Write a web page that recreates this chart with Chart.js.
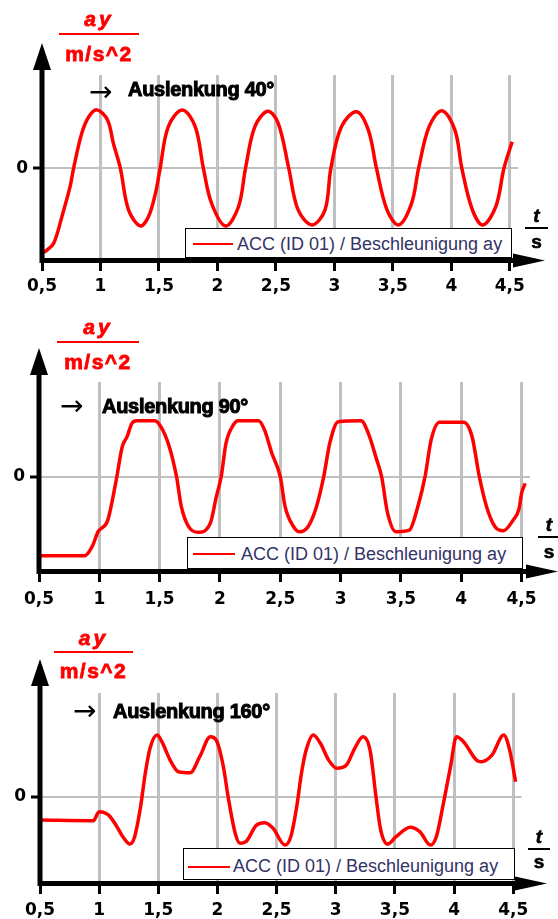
<!DOCTYPE html>
<html>
<head>
<meta charset="utf-8">
<script src="https://cdn.jsdelivr.net/npm/chart.js@4.4.0/dist/chart.umd.min.js"></script>
<style>
body { margin: 0; background: #fff; width: 558px; height: 919px; overflow: hidden; position: relative; font-family: "Liberation Sans", Arial, sans-serif; }
canvas { position: absolute; left: 0; }
.q, .u { position: absolute; color: #ff0000; font-weight: bold; text-align: center; font-size: 21px; line-height: 21px; -webkit-text-stroke: 0.8px #ff0000; }
.q { font-style: italic; letter-spacing: 3px; }
.u { letter-spacing: 1.5px; }
.bar { position: absolute; height: 2px; background: #ff0000; }
.arr { position: absolute; font-family: "DejaVu Sans", sans-serif; font-size: 28px; line-height: 28px; color: #000; }
.lbl { position: absolute; font-size: 20px; line-height: 20px; font-weight: bold; letter-spacing: -0.3px; -webkit-text-stroke: 1px #000; white-space: nowrap; }
.leg { position: absolute; box-sizing: border-box; border: 1px solid #000; background: #fff; }
.leg i { position: absolute; height: 2px; background: #ff0000; }
.leg span { position: absolute; font-size: 18px; line-height: 18px; color: #333366; white-space: nowrap; }
.tq, .ts { position: absolute; text-align: center; font-weight: bold; font-size: 19px; line-height: 19px; -webkit-text-stroke: 0.6px #000; }
.tq { font-style: italic; }
.tbar { position: absolute; height: 2px; background: #000; }
</style>
</head>
<body>
<canvas id="c1" width="558" height="300" style="top:0"></canvas>
<canvas id="c2" width="558" height="312" style="top:300px"></canvas>
<canvas id="c3" width="558" height="320" style="top:600px"></canvas>

<!-- panel 1 -->
<div class="q" style="left:59px;width:80px;top:8px">ay</div>
<div class="bar" style="left:59px;width:80px;top:33px"></div>
<div class="u" style="left:59px;width:80px;top:43px">m/s^2</div>
<div class="arr" style="left:89px;top:78px">→</div>
<div class="lbl" style="left:128px;top:79px">Auslenkung 40°</div>
<div class="leg" style="left:185px;top:228px;width:327px;height:30px"><i style="left:7px;width:40px;top:14px"></i><span style="left:51px;top:6px">ACC (ID 01) / Beschleunigung ay</span></div>
<div class="tq" style="left:525px;width:23px;top:206px">t</div>
<div class="tbar" style="left:525px;width:23px;top:227px"></div>
<div class="ts" style="left:525px;width:23px;top:232px">s</div>

<!-- panel 2 -->
<div class="q" style="left:57px;width:82px;top:316px">ay</div>
<div class="bar" style="left:57px;width:82px;top:341px"></div>
<div class="u" style="left:57px;width:82px;top:351px">m/s^2</div>
<div class="arr" style="left:60px;top:392px">→</div>
<div class="lbl" style="left:102px;top:396px">Auslenkung 90°</div>
<div class="leg" style="left:187px;top:537px;width:336px;height:32px"><i style="left:5px;width:42px;top:15px"></i><span style="left:53px;top:7px">ACC (ID 01) / Beschleunigung ay</span></div>
<div class="tq" style="left:538px;width:22px;top:515px">t</div>
<div class="tbar" style="left:538px;width:22px;top:536px"></div>
<div class="ts" style="left:538px;width:22px;top:542px">s</div>

<!-- panel 3 -->
<div class="q" style="left:54px;width:79px;top:627px">ay</div>
<div class="bar" style="left:54px;width:79px;top:651px"></div>
<div class="u" style="left:54px;width:79px;top:660px">m/s^2</div>
<div class="arr" style="left:73px;top:697px">→</div>
<div class="lbl" style="left:113px;top:701px">Auslenkung 160°</div>
<div class="leg" style="left:183px;top:848px;width:332px;height:32px"><i style="left:4px;width:42px;top:17px"></i><span style="left:49px;top:8px">ACC (ID 01) / Beschleunigung ay</span></div>
<div class="tq" style="left:528px;width:22px;top:827px">t</div>
<div class="tbar" style="left:528px;width:22px;top:848px"></div>
<div class="ts" style="left:528px;width:22px;top:852px">s</div>

<script>
// x ticks (seconds)
const xTicks = [0.5, 1, 1.5, 2, 2.5, 3, 3.5, 4, 4.5];

// Auslenkung 40°
const t40 = [0.50,0.54,0.60,0.67,0.74,0.77,0.84,0.90,0.97,1.06,1.11,1.17,1.24,1.34,1.41,1.47,1.51,1.58,1.70,1.81,
    1.88,1.95,2.07,2.18,2.24,2.32,2.43,2.52,2.61,2.69,2.81,2.92,2.97,3.06,3.19,3.29,3.36,3.45,3.55,3.66,
    3.72,3.81,3.92,4.03,4.09,4.18,4.27,4.38,4.45,4.52];
const ay40 = [-4.25,-4.1,-3.75,-2.42,-0.92,0,1.75,2.58,2.92,2.42,1.25,0,-2.08,-2.88,-2.42,-1.25,0,2.08,2.92,2.08,
    0,-1.75,-2.88,-1.92,0,2.08,2.85,2.25,0,-2.08,-2.83,-2.08,0,2.08,2.83,1.92,0,-2.08,-2.83,-1.75,
    0,2.08,2.88,1.92,0,-2.08,-2.83,-1.92,0,1.33];

// Auslenkung 90°
const t90 = [0.50,0.88,0.94,0.99,1.07,1.14,1.19,1.23,1.27,1.31,1.46,1.51,1.58,1.64,1.68,1.74,1.82,1.92,1.97,2.01,
    2.05,2.11,2.15,2.32,2.37,2.43,2.50,2.54,2.61,2.66,2.73,2.80,2.86,2.91,2.98,3.17,3.23,3.30,3.34,3.39,
    3.46,3.57,3.64,3.70,3.75,3.82,4.02,4.09,4.15,4.21,4.28,4.35,4.43,4.48,4.50,4.53];
const ay90 = [-3.95,-3.95,-3.5,-2.75,-2.17,-0.17,1.5,2.0,2.67,2.8,2.8,2.5,1.5,0,-1.5,-2.5,-2.78,-2.33,-1.0,0,
    1.67,2.58,2.8,2.8,2.33,1.17,0,-1.5,-2.5,-2.75,-2.5,-1.5,0,1.67,2.75,2.8,2.17,0.83,0,-1.83,
    -2.75,-2.67,-1.5,0,1.83,2.72,2.72,2.0,0,-1.5,-2.5,-2.7,-2.17,-1.58,-0.83,-0.33];

// Auslenkung 160°
const t160 = [0.50,0.95,1.00,1.08,1.15,1.20,1.26,1.30,1.35,1.39,1.43,1.49,1.53,1.60,1.67,1.77,1.85,1.94,1.99,2.05,
    2.09,2.15,2.19,2.24,2.33,2.40,2.47,2.57,2.62,2.67,2.71,2.75,2.81,2.87,2.94,3.01,3.09,3.16,3.23,3.29,
    3.34,3.38,3.44,3.51,3.63,3.71,3.80,3.85,3.91,3.97,4.02,4.08,4.19,4.23,4.32,4.42,4.47,4.52];
const ay160 = [-1.17,-1.2,-0.75,-0.92,-1.5,-2.0,-2.37,-2.0,-0.5,1.17,2.42,3.08,2.75,1.83,1.25,1.2,2.0,3.0,2.83,1.5,
    0,-1.83,-2.33,-2.25,-1.42,-1.3,-1.58,-2.42,-2.0,-0.5,1.17,2.33,3.08,2.67,1.83,1.42,1.58,2.42,3.0,2.33,
    0,-1.67,-2.37,-2.0,-1.53,-1.75,-2.42,-2.0,-0.33,1.5,3.0,2.75,1.83,1.75,2.08,3.08,2.33,0.75];

const seriesLabel = 'ACC (ID 01) / Beschleunigung ay';

// black axes with arrow heads, drawn over everything
const axisArrows = {
    id: 'axisArrows',
    afterDraw(chart, args, opts) {
        const ctx = chart.ctx;
        const a = chart.chartArea;
        const y0 = a.bottom + 1.5;
        ctx.save();
        ctx.fillStyle = '#000';
        ctx.strokeStyle = '#000';
        ctx.lineWidth = 5;
        ctx.beginPath();
        ctx.moveTo(a.left, y0 + 2.5);
        ctx.lineTo(a.left, opts.topTip + 20);
        ctx.moveTo(a.left - 2.5, y0);
        ctx.lineTo(opts.rightTip - 20, y0);
        ctx.stroke();
        ctx.beginPath();
        ctx.moveTo(a.left, opts.topTip);
        ctx.lineTo(a.left - 9, opts.topTip + 27);
        ctx.lineTo(a.left + 9, opts.topTip + 27);
        ctx.closePath();
        ctx.fill();
        ctx.beginPath();
        ctx.moveTo(opts.rightTip, y0);
        ctx.lineTo(opts.rightTip - 32, y0 - 7);
        ctx.lineTo(opts.rightTip - 32, y0 + 7);
        ctx.closePath();
        ctx.fill();
        ctx.restore();
    }
};

const tickFont = { family: 'DejaVu Sans', weight: 'bold', size: 17 };

function makePanel(canvasId, t, ay, p) {
    const ctx = document.getElementById(canvasId).getContext('2d');
    new Chart(ctx, {
        type: 'line',
        data: {
            datasets: [{
                label: seriesLabel,
                data: t.map((x, i) => ({ x: x, y: ay[i] })),
                borderColor: '#ff0000',
                borderWidth: 3.5,
                pointRadius: 0,
                cubicInterpolationMode: p.interp,
                tension: 0.35,
                fill: false
            }]
        },
        options: {
            responsive: false,
            animation: false,
            layout: { padding: { top: p.top, right: p.right, bottom: 1, left: 0 } },
            scales: {
                x: {
                    type: 'linear',
                    min: 0.5,
                    max: 4.57,
                    afterBuildTicks: s => { s.ticks = xTicks.map(v => ({ value: v })); },
                    afterFit: s => { s.height = p.xh; },
                    border: { display: false },
                    grid: { color: '#c0c0c0', lineWidth: 3, tickColor: '#000', tickWidth: 3, tickLength: 12 },
                    ticks: {
                        font: tickFont, color: '#000', padding: p.xPad, maxRotation: 0,
                        callback: v => String(v).replace('.', ',')
                    }
                },
                y: {
                    min: p.yMin,
                    max: p.yMax,
                    afterBuildTicks: s => { s.ticks = [{ value: 0 }]; },
                    afterFit: s => { s.width = p.left; },
                    border: { display: false },
                    grid: { color: '#c0c0c0', lineWidth: 2, tickColor: '#000', tickWidth: 3, tickLength: 9 },
                    ticks: { font: tickFont, color: '#000', padding: 5, callback: v => String(v) }
                }
            },
            plugins: {
                legend: { display: false },
                tooltip: { enabled: false },
                axisArrows: { topTip: p.topTip, rightTip: p.rightTip }
            }
        },
        plugins: [axisArrows]
    });
}

makePanel('c1', t40, ay40, { top: 75, right: 40, xh: 40, left: 42, yMin: -4.535, yMax: 4.665, xPad: 5, topTip: 43, rightTip: 545, interp: 'default' });
makePanel('c2', t90, ay90, { top: 82, right: 28, xh: 41, left: 39, yMin: -4.665, yMax: 4.735, xPad: 7, topTip: 48, rightTip: 558, interp: 'monotone' });
makePanel('c3', t160, ay160, { top: 93, right: 36.5, xh: 37, left: 40, yMin: -4.265, yMax: 5.185, xPad: 6, topTip: 59, rightTip: 547, interp: 'monotone' });
</script>
</body>
</html>
